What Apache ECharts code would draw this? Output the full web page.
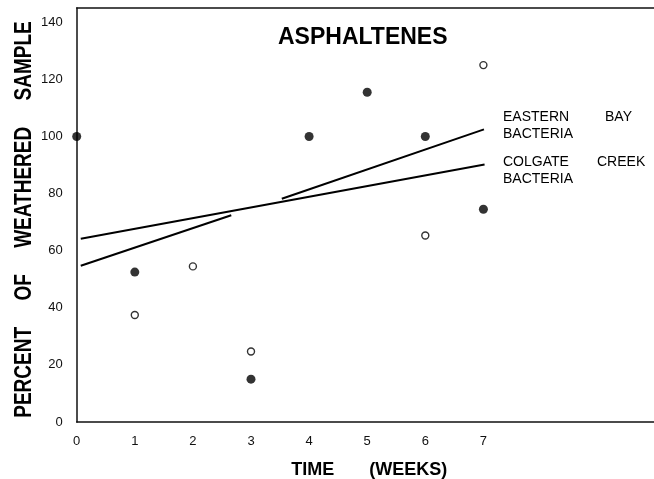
<!DOCTYPE html>
<html>
<head>
<meta charset="utf-8">
<script src="https://cdn.jsdelivr.net/npm/echarts@6/dist/echarts.min.js"></script>
<style>
html,body{margin:0;padding:0;background:#fff;}
#chart{width:654px;height:479px;}
</style>
</head>
<body>
<div id="chart"></div>
<script>
// Weeks (x) and percent of weathered sample (y)
var filledWeeks = [0, 1, 3, 4, 5, 6, 7];
var filledValues = [100, 52.5, 15, 100, 115.5, 100, 74.5];
var openWeeks = [1, 2, 3, 6, 7];
var openValues = [37.5, 54.5, 24.7, 65.3, 125];

// Regression lines (endpoints)
var colgateX = [0.07, 7.02];
var colgateY = [64.2, 90.2];
var easternSeg1X = [0.07, 2.66];
var easternSeg1Y = [54.7, 72.4];
var easternSeg2X = [3.53, 7.01];
var easternSeg2Y = [78.2, 102.5];

var xTickLabels = ['0', '1', '2', '3', '4', '5', '6', '7'];
var yTickLabels = ['0', '20', '40', '60', '80', '100', '120', '140'];

function pairs(xs, ys) { return xs.map(function (x, i) { return [x, ys[i]]; }); }

var font = 'Liberation Sans, Arial, sans-serif';
var chart = echarts.init(document.getElementById('chart'), null, { renderer: 'canvas' });

var lineStyle = { color: '#000', width: 2 };
var annFont = '500 14px ' + font;

chart.setOption({
  animation: false,
  backgroundColor: '#fff',
  title: {
    text: 'ASPHALTENES',
    left: 273,
    top: 21,
    textStyle: { fontFamily: font, fontSize: 23, fontWeight: 'bold', color: '#000' }
  },
  grid: {
    left: 76.7, top: 8, width: 581, bottom: 57,
    show: false,
    outerBoundsMode: 'none',
    containLabel: false
  },
  xAxis: [{
    type: 'value', min: 0, max: 10, interval: 1,
    axisLine: { show: true, lineStyle: { color: '#111', width: 1.5 } },
    axisTick: { show: false },
    splitLine: { show: false },
    axisLabel: {
      margin: 13, fontFamily: font, fontSize: 13, color: '#111',
      formatter: function (v) { return xTickLabels[v] !== undefined ? xTickLabels[v] : ''; }
    },
    name: 'TIME       (WEEKS)',
    nameLocation: 'middle',
    nameGap: 39,
    nameTextStyle: { fontFamily: font, fontSize: 18, fontWeight: 'bold', color: '#000', padding: [0, 0, 0, 4] }
  }, {
    type: 'value', position: 'top', min: 0, max: 10,
    axisLine: { show: true, onZero: false, lineStyle: { color: '#111', width: 1.5 } },
    axisTick: { show: false }, axisLabel: { show: false }, splitLine: { show: false }
  }],
  yAxis: {
    type: 'value', min: 0, max: 145, interval: 20,
    axisLine: { show: true, lineStyle: { color: '#111', width: 1.5 } },
    axisTick: { show: false },
    splitLine: { show: false },
    axisLabel: {
      margin: 14, fontFamily: font, fontSize: 13, color: '#111',
      formatter: function (v) { var i = v / 20; return (v % 20 === 0 && yTickLabels[i] !== undefined) ? yTickLabels[i] : ''; }
    }
  },
  graphic: [
    {
      type: 'text', x: 24, y: 219.5, rotation: Math.PI / 2, scaleY: 1.3,
      style: {
        text: 'PERCENT     OF     WEATHERED     SAMPLE',
        font: 'bold 19px ' + font, fill: '#000',
        textAlign: 'center', textVerticalAlign: 'middle'
      }
    },
    { type: 'text', left: 503, top: 110, style: { text: 'EASTERN', font: annFont, fill: '#000' } },
    { type: 'text', left: 605, top: 110, style: { text: 'BAY', font: annFont, fill: '#000' } },
    { type: 'text', left: 503, top: 127, style: { text: 'BACTERIA', font: annFont, fill: '#000' } },
    { type: 'text', left: 503, top: 155, style: { text: 'COLGATE', font: annFont, fill: '#000' } },
    { type: 'text', left: 597, top: 155, style: { text: 'CREEK', font: annFont, fill: '#000' } },
    { type: 'text', left: 503, top: 172, style: { text: 'BACTERIA', font: annFont, fill: '#000' } }
  ],
  series: [
    { type: 'line', data: pairs(colgateX, colgateY), showSymbol: false, symbol: 'none', lineStyle: lineStyle, silent: true },
    { type: 'line', data: pairs(easternSeg1X, easternSeg1Y), showSymbol: false, symbol: 'none', lineStyle: lineStyle, silent: true },
    { type: 'line', data: pairs(easternSeg2X, easternSeg2Y), showSymbol: false, symbol: 'none', lineStyle: lineStyle, silent: true },
    {
      type: 'scatter', data: pairs(filledWeeks, filledValues), clip: false,
      symbol: 'circle', symbolSize: 9, itemStyle: { color: '#000' }
    },
    {
      type: 'scatter', data: pairs(openWeeks, openValues), clip: false,
      symbol: 'circle', symbolSize: 7, itemStyle: { color: '#fff', borderColor: '#000', borderWidth: 1.4 }
    }
  ]
});
</script>
</body>
</html>
